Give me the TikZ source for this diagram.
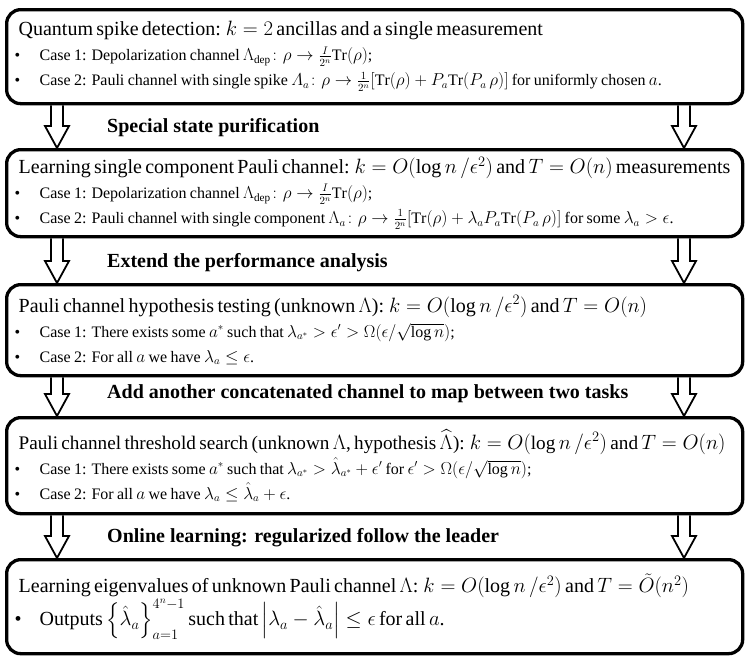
\documentclass[tikz,border=0pt]{standalone}
\usepackage{amsmath,amssymb}
\usepackage{fontspec}
\setmainfont{Liberation Serif}
\usetikzlibrary{calc}
\newcommand\titlefont{\fontsize{20}{24}\selectfont}
\newcommand\casefont{\fontsize{16}{25}\selectfont}
\newcommand\bul{\hspace*{-4pt}\makebox[25pt][l]{\textbullet}}
\newcommand\titleline[1]{{\titlefont\mbox{#1}\par}}
\newcommand\caseline[1]{{\casefont\mbox{\bul #1}\par}}
\tikzset{
  taskbox/.style={draw=black, line width=3.3pt, rounded corners=14pt,
    anchor=north west, text width=712pt, inner xsep=12pt, inner ysep=0pt,
    align=left, execute at begin node={\parindent=0pt}},
  steplabel/.style={font=\fontsize{20}{24}\selectfont\bfseries,
    anchor=base west, inner sep=0pt},
  bigarrow/.style={draw=black, line width=1.8pt, line join=miter,
    to path={let \p1=(\tikztostart), \p2=(\tikztotarget) in
      (\x1-6pt,\y1) -- (\x1-6pt,\y2+22pt) -- (\x1-12pt,\y2+22pt) -- (\x2,\y2)
      -- (\x1+12pt,\y2+22pt) -- (\x1+6pt,\y2+22pt) -- (\x1+6pt,\y1)}}
}
\begin{document}
\begin{tikzpicture}[x=1pt,y=-1pt]
\useasboundingbox (0,0) rectangle (747,662);

% the five tasks
\node[taskbox, minimum height=94pt] (b1) at (5,8) {%
  \titleline{Quantum spike detection: $k=2$ ancillas and a single measurement}
  \caseline{Case 1: Depolarization channel $\Lambda_{\mathrm{dep}}\colon\rho\rightarrow\frac{I}{2^n}\mathrm{Tr}(\rho)$;}
  \caseline{Case 2: Pauli channel with single spike $\varLambda_a\colon\rho\rightarrow\frac{1}{2^n}[\mathrm{Tr}(\rho)+P_a\mathrm{Tr}(P_a\,\rho)]$ for uniformly chosen $a$.}};
\node[taskbox, minimum height=87pt] (b2) at (5,148) {%
  \titleline{Learning single component Pauli channel: $k=O(\log n\,/\epsilon^2)$ and $T=O(n)$ measurements}
  \caseline{Case 1: Depolarization channel $\Lambda_{\mathrm{dep}}\colon\rho\rightarrow\frac{I}{2^n}\mathrm{Tr}(\rho)$;}
  \caseline{Case 2: Pauli channel with single component $\Lambda_a\colon\rho\rightarrow\frac{1}{2^n}[\mathrm{Tr}(\rho)+\lambda_aP_a\mathrm{Tr}(P_a\,\rho)]$ for some $\lambda_a>\epsilon$.}};
\node[taskbox, minimum height=91pt] (b3) at (5,283) {%
  \titleline{Pauli channel hypothesis testing (unknown $\Lambda$): $k=O(\log n\,/\epsilon^2)$ and $T=O(n)$}
  \caseline{Case 1: There exists some $a^*$ such that $\lambda_{a^*}>\epsilon'>\Omega(\epsilon/\sqrt{\log n})$;}
  \caseline{Case 2: For all $a$ we have $\lambda_a\le\epsilon$.}};
\node[taskbox, minimum height=96pt] (b4) at (5,416) {%
  {\fontsize{19.2}{24}\selectfont\mbox{Pauli channel threshold search (unknown $\Lambda$, hypothesis $\widehat{\Lambda}$): $k=O(\log n\,/\epsilon^2)$ and $T=O(n)$}\par}
  \caseline{Case 1: There exists some $a^*$ such that $\lambda_{a^*}>\hat{\lambda}_{a^*}+\epsilon'$ for $\epsilon'>\Omega(\epsilon/\sqrt{\log n})$;}
  \caseline{Case 2: For all $a$ we have $\lambda_a\le\hat{\lambda}_a+\epsilon$.}};
\node[taskbox, minimum height=94pt] (b5) at (5,558) {%
  \titleline{Learning eigenvalues of unknown Pauli channel $\Lambda$: $k=O(\log n\,/\epsilon^2)$ and $T=\tilde{O}(n^2)$}
  {\fontsize{20}{32}\selectfont\mbox{\bul Outputs $\left\{\hat{\lambda}_a\right\}_{a=1}^{4^n-1}$ such that $\left|\lambda_a-\hat{\lambda}_a\right|\le\epsilon$ for all $a$.}\par}};

% reductions between them
\node[steplabel] (l1) at (107,132) {Special state purification};
\node[steplabel] (l2) at (107,267) {Extend the performance analysis};
\node[steplabel] (l3) at (107,398) {Add another concatenated channel to map between two tasks};
\node[steplabel] (l4) at (107,542) {Online learning: regularized follow the leader};

\coordinate (la) at (57,0);
\coordinate (ra) at (684,0);
\foreach \a/\b in {b1/b2,b2/b3,b3/b4,b4/b5} {
  \draw[bigarrow] (\a.south -| la) to (\b.north -| la);
  \draw[bigarrow] (\a.south -| ra) to (\b.north -| ra);
}
\end{tikzpicture}
\end{document}
